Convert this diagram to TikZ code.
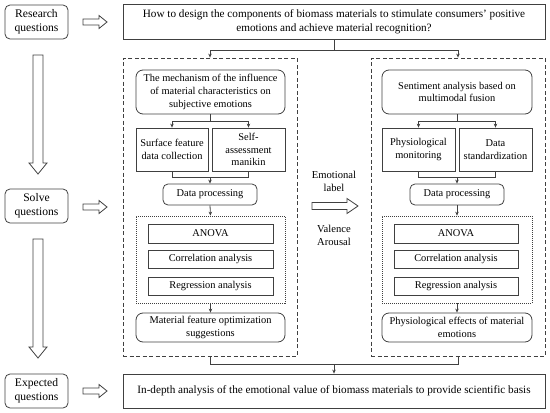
\documentclass[tikz,border=0pt]{standalone}
\usepackage{fontspec}
\setmainfont{Liberation Serif}
\usetikzlibrary{arrows.meta}
\definecolor{ln}{HTML}{404040}
\begin{document}
\begin{tikzpicture}[x=1pt,y=-1pt,
  every node/.style={inner sep=1pt, text=black},
  base/.style={draw=ln, line width=0.8pt, align=center, font=\fontsize{10.4}{12.8}\selectfont},
  sidebox/.style={base, rounded corners=5pt, minimum width=63pt, minimum height=34pt, font=\fontsize{11.6}{14}\selectfont},
  bigbox/.style={base, minimum width=422pt, minimum height=35pt, font=\fontsize{11.2}{14}\selectfont},
  rbox/.style={base, rounded corners=7pt},
  sqbox/.style={base},
  dashbox/.style={draw=ln, line width=0.8pt, dash pattern=on 4pt off 2.5pt, minimum width=174pt, minimum height=298pt},
  dotbox/.style={draw=ln, line width=0.7pt, dash pattern=on 1pt off 1pt, minimum width=149pt, minimum height=87pt},
  conn/.style={draw=ln, line width=0.8pt},
  arr/.style={conn, -{Stealth[length=4pt,width=3.5pt]}},
  hollow/.style={draw=ln, line width=0.8pt, fill=white},
  plain/.style={inner sep=0pt, align=center, font=\fontsize{10.6}{12.8}\selectfont}
]
\useasboundingbox (0,0) rectangle (550,413);

% left column
\node[sidebox] (rq) at (36.5,22) {Research\\questions};
\node[sidebox] (sq) at (36.5,206) {Solve\\questions};
\node[sidebox] (eq) at (36.5,391) {Expected\\questions};

% hollow right arrows
\foreach \yy in {22,207,391}{
  \draw[hollow] (83,\yy-3) -- (99,\yy-3) -- (99,\yy-6.5) -- (107,\yy) -- (99,\yy+6.5) -- (99,\yy+3) -- (83,\yy+3) -- cycle;
}
% vertical hollow arrows
\draw[hollow] (33,55) -- (43,55) -- (43,163) -- (47,163) -- (38,174) -- (29,163) -- (33,163) -- cycle;
\draw[hollow] (33,239) -- (43,239) -- (43,347) -- (47,347) -- (38,358) -- (29,347) -- (33,347) -- cycle;

% top and bottom
\node[bigbox] (top) at (334,21.5) {How to design the components of biomass materials to stimulate consumers' positive\\emotions and achieve material recognition?};
\node[bigbox, minimum height=34pt] (bot) at (334,391) {In-depth analysis of the emotional value of biomass materials to provide scientific basis};

% dashed boxes
\node[dashbox] (ld) at (210,207) {};
\node[dashbox] (rd) at (458,207) {};

\draw[conn] (top.south) -- (334,50) coordinate (tj);
\draw[arr] (tj) -| (ld.north);
\draw[arr] (tj) -| (rd.north);

% ---- left panel
\node[rbox, minimum width=149pt, minimum height=44pt] (mech) at (210.5,92) {The mechanism of the influence\\of material characteristics on\\subjective emotions};
\node[sqbox, minimum width=72pt, minimum height=43pt] (sf) at (172,149.5) {Surface feature\\data collection};
\node[sqbox, minimum width=73pt, minimum height=43pt] (sam) at (248.5,149.5) {Self-\\assessment\\manikin};
\draw[conn] (mech.south) -- (210.5,121) coordinate (m1);
\draw[arr] (m1) -| (sf.north);
\draw[arr] (m1) -| (sam.north);
\node[rbox, rounded corners=5pt, minimum width=94pt, minimum height=21pt] (dp) at (210,194.5) {Data processing};
\draw[conn] (sf.south) -- (172,177) -| (sam.south);
\coordinate (j1) at (210,177);
\draw[arr] (j1) -- (dp.north);
\node[dotbox] (lb) at (210.5,259.5) {};
\draw[arr] (dp.south) -- (lb.north);
\node[sqbox, minimum width=125pt, minimum height=19pt] (la) at (210.5,233.5) {ANOVA};
\node[sqbox, minimum width=125pt, minimum height=18pt] (lc) at (210.5,259.5) {Correlation analysis};
\node[sqbox, minimum width=125pt, minimum height=18pt] (lr) at (210.5,286) {Regression analysis};
\node[rbox, minimum width=149pt, minimum height=29pt] (mf) at (210.5,327.5) {Material feature optimization\\suggestions};
\draw[arr] (lb.south) -- (mf.north);

% ---- right panel
\node[rbox, minimum width=150pt, minimum height=44pt] (sent) at (457,92) {Sentiment analysis based on\\multimodal fusion};
\node[sqbox, minimum width=73pt, minimum height=43pt] (pm) at (418.5,149.5) {Physiological\\monitoring};
\node[sqbox, minimum width=73pt, minimum height=43pt] (ds) at (495.5,149.5) {Data\\standardization};
\draw[conn] (sent.south) -- (457,121) coordinate (m2);
\draw[arr] (m2) -| (pm.north);
\draw[arr] (m2) -| (ds.north);
\node[rbox, rounded corners=5pt, minimum width=94pt, minimum height=21pt] (dp2) at (457,194.5) {Data processing};
\draw[conn] (pm.south) -- (418.5,177) -| (ds.south);
\coordinate (j2) at (457,177);
\draw[arr] (j2) -- (dp2.north);
\node[dotbox, minimum width=150pt] (rb) at (457,259.5) {};
\draw[arr] (dp2.south) -- (rb.north);
\node[sqbox, minimum width=124pt, minimum height=19pt] (ra) at (456,233.5) {ANOVA};
\node[sqbox, minimum width=124pt, minimum height=18pt] (rc) at (456,259.5) {Correlation analysis};
\node[sqbox, minimum width=124pt, minimum height=18pt] (rr) at (456,286) {Regression analysis};
\node[rbox, minimum width=150pt, minimum height=29pt] (pe) at (457,327.5) {Physiological effects of material\\emotions};
\draw[arr] (rb.south) -- (pe.north);

% bottom join
\draw[conn] (ld.south) -- (210,364) -| (rd.south);
\coordinate (j3) at (334,364);
\draw[arr] (j3) -- (bot.north);

% middle
\node[plain] (el) at (334,181.5) {Emotional\\label};
\node[plain] (va) at (334,235) {Valence\\Arousal};
\draw[hollow] (312,202.5) -- (347,202.5) -- (347,198.5) -- (358,206) -- (347,213.5) -- (347,209.5) -- (312,209.5) -- cycle;
\end{tikzpicture}
\end{document}
